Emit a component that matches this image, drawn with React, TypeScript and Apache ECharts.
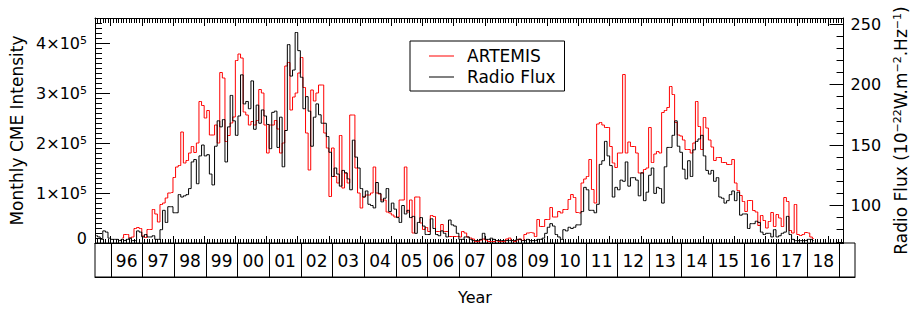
import React, { useEffect, useRef } from "react";
import * as echarts from "echarts";

const FONT = "DejaVu Sans";

// x range (decimal years) and year boxes
const X_MIN = 1995.5;
const X_MAX = 2019.5;
const yearBoundaries = [1996, 1997, 1998, 1999, 2000, 2001, 2002, 2003, 2004, 2005, 2006, 2007, 2008, 2009, 2010, 2011, 2012, 2013, 2014, 2015, 2016, 2017, 2018, 2019];
const yearLabels = ["96", "97", "98", "99", "00", "01", "02", "03", "04", "05", "06", "07", "08", "09", "10", "11", "12", "13", "14", "15", "16", "17", "18"];

// left axis (ARTEMIS, thousands) and right axis (radio flux, sfu)
const leftMajor = [0, 100, 200, 300, 400];
const rightMajor = [100, 150, 200, 250];

// Radio flux monthly means, starting July 1995
const radioFluxStart = { year: 1995, month: 7 };
const radioFlux = [
  75, 74, 72, 79, 78, 73,
  72, 72, 72, 71, 72, 71, 72, 73, 71, 71, 79, 78,
  74, 76, 74, 74, 75, 72, 72, 80, 96, 86, 99, 99,
  94, 94, 109, 107, 108, 109, 114, 136, 138, 118, 141, 150,
  141, 142, 126, 117, 149, 170, 165, 171, 136, 165, 191, 170,
  158, 174, 208, 184, 186, 180, 203, 163, 183, 168, 179, 174,
  167, 147, 177, 178, 148, 173, 132, 162, 233, 207, 212, 243,
  228, 206, 180, 190, 178, 149, 173, 184, 175, 168, 168, 157,
  144, 124, 131, 126, 116, 129, 127, 122, 113, 154, 140, 131,
  114, 107, 112, 101, 100, 98, 119, 110, 103, 106, 114, 95,
  102, 97, 90, 86, 100, 93, 96, 90, 91, 77, 86, 90,
  83, 76, 76, 89, 81, 76, 75, 79, 77, 74, 88, 84,
  83, 77, 72, 72, 74, 74, 72, 71, 71, 71, 72, 77,
  72, 72, 73, 72, 71, 71, 71, 71, 71, 71, 71, 71,
  72, 72, 71, 71, 72, 71, 71, 71, 72, 72, 73, 77,
  82, 85, 83, 76, 74, 72, 80, 79, 82, 81, 82, 84,
  84, 95, 115, 113, 96, 96, 94, 101, 134, 137, 153, 141,
  133, 107, 115, 113, 121, 120, 136, 116, 123, 123, 121, 108,
  127, 104, 111, 125, 131, 110, 115, 114, 102, 132, 148, 148,
  158, 170, 149, 144, 130, 122, 137, 124, 146, 153, 155, 158,
  141, 129, 126, 129, 120, 123, 107, 106, 102, 104, 109, 112,
  104, 111, 92, 93, 93, 81, 85, 85, 87, 86, 78, 76,
  77, 77, 74, 80, 74, 75, 77, 78, 91, 76, 72, 71,
  71, 71, 71, 71, 72, 72, 71,
];

// ARTEMIS monthly CME intensity (thousands), starting May 1996
const artemisStart = { year: 1996, month: 5 };
const artemisK = [
  10, 17, 17, 10, 12, 29, 31, 29,
  14, 11, 27, 27, 67, 58, 42, 77, 80, 90, 100, 101,
  131, 152, 155, 222, 160, 165, 180, 193, 181, 200, 283, 275,
  250, 265, 216, 216, 236, 200, 341, 330, 203, 215, 240, 252,
  365, 378, 370, 262, 256, 236, 243, 236, 245, 307, 300, 236,
  180, 236, 236, 245, 228, 180, 200, 354, 361, 266, 292, 300,
  340, 371, 311, 220, 146, 306, 284, 300, 316, 316, 220, 190,
  93, 190, 133, 120, 215, 110, 140, 120, 256, 256, 150, 100,
  70, 92, 96, 96, 100, 152, 100, 98, 86, 86, 62, 60,
  56, 52, 52, 86, 86, 152, 62, 86, 20, 92, 92, 40,
  27, 31, 23, 55, 53, 23, 23, 37, 23, 23, 13, 13,
  13, 13, 12, 23, 20, 12, 10, 8, 3, 3, 6, 8,
  6, 3, 3, 3, 5, 3, 3, 3, 8, 10, 5, 3,
  6, 8, 5, 17, 20, 21, 20, 13, 47, 33, 33, 47,
  47, 71, 52, 52, 63, 60, 67, 67, 87, 97, 91, 61,
  60, 120, 128, 133, 167, 107, 80, 238, 241, 236, 231, 231,
  193, 160, 151, 180, 180, 337, 180, 202, 193, 193, 180, 140,
  140, 147, 150, 231, 161, 178, 183, 180, 261, 265, 271, 313,
  297, 241, 216, 214, 206, 187, 187, 180, 200, 283, 233, 187,
  251, 230, 206, 192, 165, 171, 171, 161, 161, 157, 157, 167,
  120, 105, 95, 83, 63, 85, 85, 65, 62, 35, 55, 45,
  30, 43, 61, 33, 57, 50, 33, 91, 83, 25, 20, 77,
  17, 15, 17, 21, 20, 12, 9,
];

const monthCenter = (start: { year: number; month: number }, i: number) =>
  start.year + (start.month - 1 + i + 0.5) / 12;

const range = (a: number, b: number, step: number) => {
  const out: number[] = [];
  for (let v = a; v <= b + 1e-9; v += step) out.push(Math.round(v * 1e6) / 1e6);
  return out;
};

export default function App() {
  const ref = useRef<HTMLDivElement>(null);

  useEffect(() => {
    if (!ref.current) return;
    const chart = echarts.init(ref.current, null, { renderer: "svg" });

    const monthTicks: number[] = [];
    for (let k = 0; k <= 288; k++) monthTicks.push(X_MIN + k / 12);
    const yearCenters = yearLabels.map((_, i) => yearBoundaries[i] + 0.5);
    const leftMinor = range(0, 450, 10);
    const rightMinor = range(70, 250, 10);

    const line = { show: true, onZero: false, lineStyle: { color: "#000", width: 1 } };
    const noLine = { show: false, onZero: false };
    const tick = (values: number[], length: number) => ({
      show: true,
      inside: true,
      length,
      customValues: values,
      lineStyle: { color: "#000", width: 1 },
    });

    const xBase = (gridIndex: number, position: string) => ({
      type: "value",
      gridIndex,
      position,
      min: X_MIN,
      max: X_MAX,
      splitLine: { show: false },
      axisLabel: { show: false },
    });

    const yLeftBase = {
      type: "value",
      gridIndex: 0,
      position: "left",
      min: 0,
      max: 450,
      splitLine: { show: false },
    };
    const yRightBase = {
      type: "value",
      gridIndex: 0,
      position: "right",
      min: 69,
      max: 255,
      splitLine: { show: false },
    };

    const option: any = {
      animation: false,
      backgroundColor: "#ffffff",
      textStyle: { fontFamily: FONT, color: "#000" },
      grid: [
        { left: 95, right: 62, top: 18, height: 225, containLabel: false },
        {
          left: 95,
          right: 62,
          top: 243,
          height: 34,
          show: true,
          borderColor: "#000",
          borderWidth: 1,
          backgroundColor: "transparent",
        },
      ],
      legend: {
        data: [
          { name: "ARTEMIS", icon: "rect", itemStyle: { color: "#ff0000" } },
          { name: "Radio Flux", icon: "rect", itemStyle: { color: "#000000" } },
        ],
        orient: "vertical",
        left: 410,
        top: 41,
        padding: [5, 9, 4, 19],
        itemGap: 1,
        itemWidth: 25,
        itemHeight: 1,
        borderColor: "#000",
        borderWidth: 1,
        backgroundColor: "#fff",
        textStyle: { fontFamily: FONT, fontSize: 17, color: "#000", padding: [0, 0, 0, 8], lineHeight: 20 },
      },
      xAxis: [
        { ...xBase(0, "bottom"), axisLine: line, axisTick: tick(yearBoundaries, 7) },
        { ...xBase(0, "bottom"), axisLine: noLine, axisTick: tick(monthTicks, 4) },
        { ...xBase(0, "top"), axisLine: line, axisTick: tick(yearBoundaries, 8) },
        { ...xBase(0, "top"), axisLine: noLine, axisTick: tick(monthTicks, 5) },
        {
          ...xBase(1, "bottom"),
          axisLine: line,
          axisTick: tick(yearBoundaries, 34),
          axisLabel: {
            show: true,
            inside: true,
            margin: 8,
            customValues: yearCenters,
            fontFamily: FONT,
            fontSize: 17,
            color: "#000",
            formatter: (v: number) => {
              const idx = yearCenters.findIndex((c) => Math.abs(c - v) < 1e-6);
              return idx >= 0 ? yearLabels[idx] : "";
            },
          },
          name: "Year",
          nameLocation: "middle",
          nameGap: 12,
          nameTextStyle: { fontFamily: FONT, fontSize: 16, color: "#000", verticalAlign: "top" },
        },
      ],
      yAxis: [
        {
          ...yLeftBase,
          axisLine: line,
          axisTick: tick(leftMajor, 15),
          axisLabel: {
            show: true,
            margin: 8,
            customValues: leftMajor,
            formatter: (v: number) => (v === 0 ? "{z|0}" : `{m|${v / 100}×10}{s|5}`),
            rich: {
              z: { fontFamily: FONT, fontSize: 16, color: "#000", padding: [0, 0, 10, 0] },
              m: { fontFamily: FONT, fontSize: 16, color: "#000" },
              s: { fontFamily: FONT, fontSize: 11, color: "#000", verticalAlign: "top" },
            },
          },
          name: "Monthly CME Intensity",
          nameLocation: "middle",
          nameRotate: 90,
          nameGap: 68,
          nameTextStyle: { fontFamily: FONT, fontSize: 17, color: "#000" },
        },
        { ...yLeftBase, axisLine: noLine, axisTick: tick(leftMinor, 7), axisLabel: { show: false } },
        {
          ...yRightBase,
          axisLine: line,
          axisTick: tick(rightMajor, 14),
          axisLabel: {
            show: true,
            margin: 7,
            customValues: rightMajor,
            fontFamily: FONT,
            fontSize: 16,
            color: "#000",
          },
          name: "{n|Radio Flux (10}{s|−22}{n|W.m}{s|−2}{n|.Hz}{s|−1}{n|)}",
          nameLocation: "middle",
          nameRotate: 90,
          nameGap: 40,
          nameTextStyle: {
            rich: {
              n: { fontFamily: FONT, fontSize: 17, color: "#000" },
              s: { fontFamily: FONT, fontSize: 11, color: "#000", verticalAlign: "top" },
            },
          },
        },
        { ...yRightBase, axisLine: noLine, axisTick: tick(rightMinor, 7), axisLabel: { show: false } },
        { type: "value", gridIndex: 1, show: false, min: 0, max: 1 },
      ],
      series: [
        {
          name: "ARTEMIS",
          type: "line",
          xAxisIndex: 0,
          yAxisIndex: 0,
          step: "middle",
          symbol: "none",
          color: "#ff0000",
          lineStyle: { color: "#ff0000", width: 1 },
          data: artemisK.map((v, i) => [monthCenter(artemisStart, i), v]),
        },
        {
          name: "Radio Flux",
          type: "line",
          xAxisIndex: 0,
          yAxisIndex: 2,
          step: "middle",
          symbol: "none",
          color: "#000000",
          lineStyle: { color: "#000000", width: 1 },
          data: radioFlux.map((v, i) => [monthCenter(radioFluxStart, i), v]),
        },
      ],
    };

    chart.setOption(option);
    return () => chart.dispose();
  }, []);

  return (
    <div
      ref={ref}
      style={{ position: "absolute", left: 0, top: 0, width: 917, height: 310, background: "#fff" }}
    />
  );
}
